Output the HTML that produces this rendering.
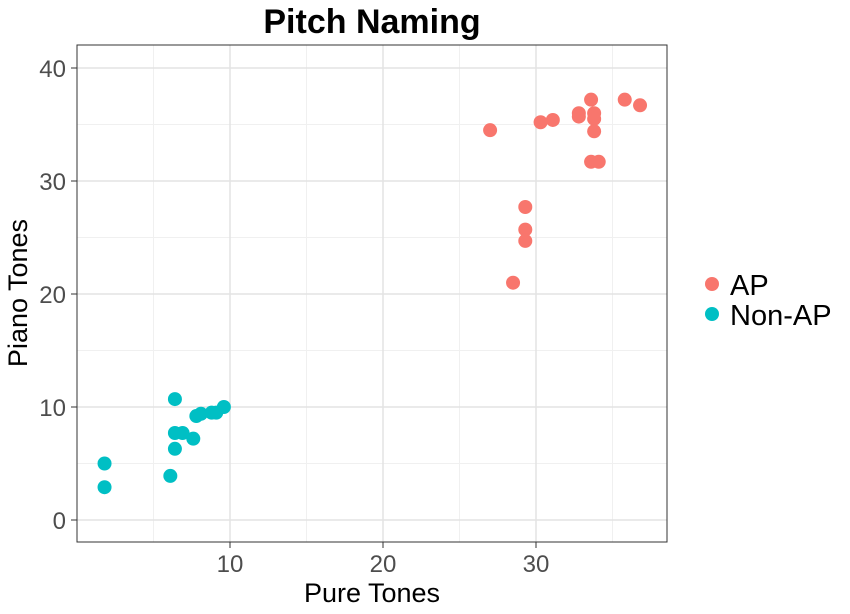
<!DOCTYPE html>
<html><head><meta charset="utf-8"><style>
body{margin:0;background:#fff;}
svg text{font-family:"Liberation Sans",sans-serif;}
</style></head><body>
<svg width="850" height="609" viewBox="0 0 850 609" xmlns="http://www.w3.org/2000/svg">
<g id="grid"></g>
<rect x="77" y="45" width="590" height="497" fill="none" stroke="#333" stroke-width="1"/>
<g id="ticks"></g>
<g id="points"></g>
<text x="372" y="33" text-anchor="middle" font-size="34" font-weight="bold" fill="#000">Pitch Naming</text>
<text x="372" y="602" text-anchor="middle" font-size="27" fill="#000">Pure Tones</text>
<text transform="translate(27,293) rotate(-90)" text-anchor="middle" font-size="27" fill="#000">Piano Tones</text>
<g>
<circle cx="712" cy="284" r="7" fill="#F8766D"/>
<text x="730" y="295" font-size="29">AP</text>
<circle cx="712" cy="314" r="7" fill="#00BFC4"/>
<text x="730" y="325" font-size="29">Non-AP</text>
</g>
</svg>
<script>
const apX=[27.0,30.3,31.1,32.8,32.8,33.6,33.8,33.8,33.8,33.6,34.1,35.8,36.8,29.3,29.3,29.3,28.5];
const apY=[34.5,35.2,35.4,36.0,35.7,37.2,36.0,35.5,34.4,31.7,31.7,37.2,36.7,27.7,25.7,24.7,21.0];
const nonX=[6.4,9.6,7.8,8.1,8.8,9.1,6.4,6.9,7.6,6.4,1.8,6.1,1.8];
const nonY=[10.7,10.0,9.2,9.4,9.5,9.5,7.7,7.7,7.2,6.3,5.0,3.9,2.9];
const xTicks=[10,20,30];
const yTicks=[0,10,20,30,40];
const NS="http://www.w3.org/2000/svg";
const sx=v=>77+v*15.3, sy=v=>520-v*11.3;
const grid=document.getElementById('grid'), ticks=document.getElementById('ticks'), pts=document.getElementById('points');
function ln(p,x1,y1,x2,y2,c,w,name){const l=document.createElementNS(NS,'line');l.setAttribute('x1',x1);l.setAttribute('y1',y1);l.setAttribute('x2',x2);l.setAttribute('y2',y2);l.setAttribute('stroke',c);l.setAttribute('stroke-width',w);


p.appendChild(l);}
function tx(p,x,y,s,a,name){const t=document.createElementNS(NS,'text');t.setAttribute('x',x);t.setAttribute('y',y);t.setAttribute('text-anchor',a);t.setAttribute('font-size','24');t.setAttribute('fill','#4d4d4d');t.textContent=s;


p.appendChild(t);}
for(let v=5;v<=35;v+=10) ln(grid,sx(v),45,sx(v),542,'#f0f0f0',1,'minor-gridline-x');
for(let v=5;v<=45;v+=10) if(sy(v)>45) ln(grid,77,sy(v),667,sy(v),'#f0f0f0',1,'minor-gridline-y');
xTicks.forEach(v=>{ln(grid,sx(v),45,sx(v),542,'#e3e3e3',1.5,'gridline-x');ln(ticks,sx(v),542,sx(v),548,'#333',1,'x-tick');tx(ticks,sx(v),572,v,'middle','x-tick-label');});
yTicks.forEach(v=>{ln(grid,77,sy(v),667,sy(v),'#e3e3e3',1.5,'gridline-y');ln(ticks,71,sy(v),77,sy(v),'#333',1,'y-tick');tx(ticks,66,sy(v)+9,v,'end','y-tick-label');});
function dot(x,y,c,name){const d=document.createElementNS(NS,'circle');d.setAttribute('cx',sx(x));d.setAttribute('cy',sy(y));d.setAttribute('r',7);d.setAttribute('fill',c);


pts.appendChild(d);}
apX.forEach((x,i)=>dot(x,apY[i],'#F8766D','point-ap'));
nonX.forEach((x,i)=>dot(x,nonY[i],'#00BFC4','point-non-ap'));
</script>
</body></html>
